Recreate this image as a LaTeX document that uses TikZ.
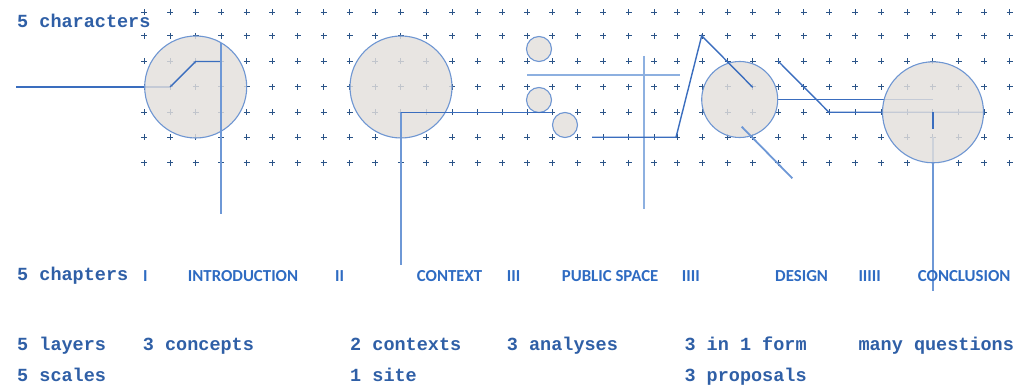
\documentclass[tikz,border=0pt]{standalone}
\usepackage{fontspec}
\setmonofont{Liberation Mono}
\newfontfamily\chapfont{Carlito}
\definecolor{inkmono}{HTML}{2F5FA6}
\definecolor{inkchap}{HTML}{2E6BC2}
\definecolor{gridblue}{HTML}{2B5488}
\definecolor{linedark}{HTML}{3A6DBE}
\definecolor{linemid}{HTML}{6E98D6}
\definecolor{linelight}{HTML}{8DB0E0}
\definecolor{discfill}{HTML}{E3DFDC}
\definecolor{discedge}{HTML}{6E96D2}
\begin{document}
\begin{tikzpicture}[x=1pt,y=-1pt,
  gridmark/.style={draw=gridblue,line width=1pt},
  disc/.style={circle,draw=discedge,line width=1.1pt,fill=discfill,fill opacity=0.82,inner sep=0pt},
  darkline/.style={draw=linedark,line width=1.4pt},
  midline/.style={draw=linemid,line width=1.8pt},
  lightline/.style={draw=linelight,line width=2.2pt},
  monotext/.style={anchor=base west,inner sep=0pt,text=inkmono,font=\fontsize{18.5}{20}\selectfont\ttfamily\bfseries},
  chaptext/.style={anchor=base west,inner sep=0pt,text=inkchap,font=\fontsize{16.8}{18}\selectfont\chapfont\bfseries}]
\useasboundingbox (0,0) rectangle (1017,387);

% dotted grid of small crosses
\foreach \gx in {144.3,170,195.7,221,246.7,272.3,297.7,323.5,349.5,375.2,400.8,426.4,452,477.5,502,527,552.2,577.8,603.3,628.8,654,677,702,727.5,752.8,778.3,803.8,829.3,855.3,881,907,932.8,958.5,984,1009.5}
  \foreach \gy in {12.5,36,61.5,87,112.3,137.5,163}
    \draw[gridmark] (\gx,\gy) +(-3,0) -- +(3,0) +(0,-3) -- +(0,3);

% anchor points of the connectors
\coordinate (inStart) at (16,87);
\coordinate (inBend) at (170,87);
\coordinate (inStep) at (195.7,61.5);
\coordinate (inEnd) at (221,61.5);
\coordinate (introTop) at (221,42.7);
\coordinate (introFoot) at (221,214);
\coordinate (ctxCorner) at (401,112.3);
\coordinate (ctxFoot) at (401,265);
\coordinate (ctxEnd) at (551.5,112.3);
\coordinate (psBarL) at (527,75);
\coordinate (psBarR) at (680,75);
\coordinate (psPostT) at (644,56);
\coordinate (psPostB) at (644,209);
\coordinate (zzStart) at (592,137.3);
\coordinate (zzFoot) at (676,137.3);
\coordinate (zzPeak) at (701.7,35.7);
\coordinate (zzEnd) at (752.7,87.3);
\coordinate (dsTailA) at (741.7,126.7);
\coordinate (dsTailB) at (792.3,178.3);
\coordinate (dsSlashA) at (778.3,61.3);
\coordinate (dsSlashB) at (829,112.3);
\coordinate (dsRight) at (777.7,99.3);
\coordinate (ccMidR) at (984,112.3);
\coordinate (ccUpper) at (933,99.3);
\coordinate (ccCentre) at (933,112.3);
\coordinate (ccTick) at (933,129.3);
\coordinate (ccStem) at (933,137.3);
\coordinate (ccFoot) at (933,291);

% lines that run beneath the discs
\draw[darkline] (inStart) -- (inBend);
\draw[darkline] (dsSlashA) -- (dsSlashB) -- (ccMidR);
\draw[darkline] (dsRight) -- (ccUpper);
\draw[midline] (ccStem) -- (ccFoot);

% the discs
\node[disc,minimum size=102pt] (intro) at (195.7,87) {};
\node[disc,minimum size=102pt] (context) at (401,87) {};
\node[disc,minimum size=25pt] (psA) at (539,49) {};
\node[disc,minimum size=25pt] (psB) at (539,100) {};
\node[disc,minimum size=25pt] (psC) at (565,125) {};
\node[disc,minimum size=76pt] (design) at (739.7,99.5) {};
\node[disc,minimum size=101pt] (concl) at (933,112.3) {};

% lines drawn over the discs
\draw[darkline] (inBend) -- (inStep) -- (inEnd);
\draw[midline] (introTop) -- (introFoot);
\draw[midline] (ctxFoot) -- (ctxCorner);
\draw[darkline] (ctxCorner) -- (ctxEnd);
\draw[lightline] (psBarL) -- (psBarR);
\draw[lightline] (psPostT) -- (psPostB);
\draw[darkline] (zzStart) -- (zzFoot) -- (zzPeak) -- (zzEnd);
\draw[midline] (dsTailA) -- (dsTailB);
\draw[draw=linedark,line width=2pt] (ccCentre) -- (ccTick);

% monospaced counts
\node[monotext] (tChar) at (17,27.3) {5 characters};
\node[monotext] (tChap) at (17,280.7) {5 chapters};
\node[monotext] (tLay) at (17,350) {5 layers};
\node[monotext] (tScale) at (17,381.5) {5 scales};
\node[monotext] (tConc) at (142.7,350) {3 concepts};
\node[monotext] (tCtx) at (350,350) {2 contexts};
\node[monotext] (tSite) at (350,381.5) {1 site};
\node[monotext] (tAna) at (506.7,350) {3 analyses};
\node[monotext] (tForm) at (684.3,350) {3 in 1 form};
\node[monotext] (tProp) at (684.3,381.5) {3 proposals};
\node[monotext] (tQues) at (858.3,350) {many questions};

% chapter titles
\node[chaptext] (n1) at (143,281.8) {I};
\node[chaptext] (h1) at (187.7,281.8) {INTRODUCTION};
\node[chaptext] (n2) at (335,281.8) {II};
\node[chaptext] (h2) at (416.7,281.8) {CONTEXT};
\node[chaptext] (n3) at (506.7,281.8) {III};
\node[chaptext] (h3) at (561.7,281.8) {PUBLIC SPACE};
\node[chaptext] (n4) at (681.7,281.8) {IIII};
\node[chaptext] (h4) at (775,281.8) {DESIGN};
\node[chaptext] (n5) at (858.3,281.8) {IIIII};
\node[chaptext] (h5) at (917.7,281.8) {CONCLUSION};
\end{tikzpicture}
\end{document}
